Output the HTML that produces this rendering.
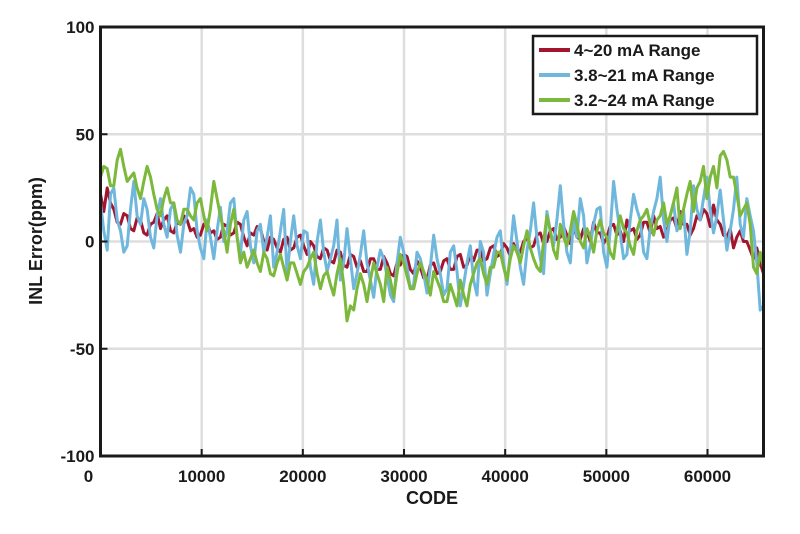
<!DOCTYPE html>
<html><head><meta charset="utf-8"><style>
body{margin:0;background:#fff;}
svg text{font-family:"Liberation Sans",Arial,sans-serif;font-weight:bold;fill:#1a1a1a;}
</style></head><body>
<svg id="chart" width="800" height="529" viewBox="0 0 800 529" xmlns="http://www.w3.org/2000/svg">
<g id="grid"></g>
<g id="series"></g>
<rect x="100.5" y="27" width="663" height="429" fill="none" stroke="#1a1a1a" stroke-width="3"/>
<g id="ticks"></g>
<text x="432" y="504" font-size="18" text-anchor="middle">CODE</text>
<text transform="translate(42,241) rotate(-90)" font-size="18" text-anchor="middle">INL Error(ppm)</text>
<g>
<rect x="533" y="36" width="224" height="78" fill="#fff" stroke="#1a1a1a" stroke-width="2.5"/>
<line x1="539" y1="50" x2="570" y2="50" stroke="#a3142f" stroke-width="4"/>
<text x="574" y="56" font-size="17">4~20 mA Range</text>
<line x1="539" y1="75" x2="570" y2="75" stroke="#6fb7dc" stroke-width="4"/>
<text x="574" y="81" font-size="17">3.8~21 mA Range</text>
<line x1="539" y1="100" x2="570" y2="100" stroke="#7cb83b" stroke-width="4"/>
<text x="574" y="106" font-size="17">3.2~24 mA Range</text>
</g>
</svg>
<script>
const xTicks=[0,10000,20000,30000,40000,50000,60000];
const yTicks=[-100,-50,0,50,100];
const red=[22,14,25,18,15,9,8,13,12,6,5,11,10,4,3,8,9,13,6,10,
12,5,4,9,8,12,10,5,6,2,3,8,9,4,5,1,2,8,7,3,
4,9,8,2,-2,4,3,7,6,0,-4,2,1,-3,-5,1,2,-4,-3,2,
3,-2,-6,0,-2,-7,-8,-3,-4,-9,-10,-4,-5,-11,-12,-6,-7,-12,-9,-14,
-14,-8,-8,-13,-13,-7,-10,-15,-16,-10,-11,-6,-7,-13,-15,-9,-12,-17,-18,-11,
-10,-15,-14,-9,-8,-13,-13,-7,-6,-12,-11,-6,-9,-4,-4,-9,-8,-3,-2,-7,
-6,-1,-3,-7,-1,-5,-5,0,2,-3,-2,3,4,-1,0,5,6,1,2,7,
3,-1,7,2,1,6,5,0,9,4,4,-1,2,7,8,3,5,0,10,5,
6,1,3,9,9,4,12,6,7,2,5,10,11,6,14,8,8,3,6,12,
10,15,13,7,17,10,8,3,2,6,-3,2,5,0,0,-4,-8,-3,-10,-15];
const blue=[18,5,-4,22,25,10,5,-5,-2,15,28,12,8,20,15,2,-3,12,20,8,
2,15,18,3,-5,8,12,25,22,5,-3,-8,10,2,-8,5,16,0,5,18,
20,2,-6,10,14,-2,-10,5,8,-5,2,12,-12,-5,5,15,-15,0,12,-2,
-8,5,4,-12,-20,0,10,-5,-14,-8,-2,10,-18,-10,6,-8,-22,-15,-6,5,
-10,-18,-26,-12,-4,-8,-16,-25,-28,-10,2,-5,-12,-22,-20,-5,-8,-15,-24,-12,
3,-8,-15,-25,-22,-5,-2,-14,-30,-20,-10,-2,-18,-25,0,-5,-25,-15,-6,2,
5,-10,-20,-5,12,0,-12,-20,-4,5,18,2,-8,-15,14,5,-2,10,26,8,
-5,-10,10,2,20,12,-10,-2,8,15,16,-5,-12,5,28,15,4,-8,-6,10,
22,15,10,-5,-8,6,14,20,30,10,0,12,18,5,8,15,-6,5,26,15,
10,20,30,15,4,12,24,10,-4,5,15,30,8,2,20,12,5,-10,-32,-30];
const green=[30,35,34,26,26,38,43,35,28,30,32,25,20,28,35,30,22,15,12,20,
25,18,18,10,8,15,15,12,10,18,20,12,5,15,28,20,12,5,-5,8,
15,2,-10,-5,-12,-8,-4,-10,-14,-5,-8,-15,-16,-10,-6,-12,-18,-10,-10,-15,
-20,-14,-12,-8,-5,-15,-22,-16,-14,-20,-25,-15,-8,-20,-37,-30,-32,-22,-15,-20,
-28,-18,-10,-15,-20,-28,-12,-18,-26,-15,-6,-10,-16,-22,-22,-15,-10,-14,-18,-25,
-14,-18,-22,-28,-28,-20,-25,-30,-18,-25,-30,-20,-15,-10,-8,-15,-20,-12,-12,-5,
-5,-12,-18,-8,-2,-5,-10,-2,5,-3,-8,-12,-14,0,12,5,-4,-8,8,2,
-2,5,14,8,0,-3,6,2,-5,5,10,4,2,-5,-8,5,12,6,4,-2,
-6,5,10,12,15,8,3,10,12,18,8,12,18,25,6,15,22,28,14,25,
28,35,20,30,35,25,40,42,38,30,30,22,12,15,18,8,-12,-15,-5,-12];
const NS="http://www.w3.org/2000/svg";
const X0=100.5,X1=763.5,Y0=456,Y1=27,XMAX=65535;
function sx(v){return X0+v/XMAX*(X1-X0);}
function sy(v){return Y0-(v+100)/200*(Y0-Y1);}
const grid=document.getElementById('grid'),ticks=document.getElementById('ticks'),ser=document.getElementById('series');
function mk(tag,attrs,parent){const e=document.createElementNS(NS,tag);for(const k in attrs)e.setAttribute(k,attrs[k]);parent.appendChild(e);return e;}
xTicks.forEach(t=>{
 const x=sx(t);
 if(t>0){const g=mk('line',{x1:x,y1:Y1,x2:x,y2:Y0,stroke:'#dedede','stroke-width':2.5},grid);
 
 
 const tk=mk('line',{x1:x,y1:Y0,x2:x,y2:Y0-7,stroke:'#1a1a1a','stroke-width':2},ticks);
 
 }
 const lb=mk('text',{x:t===0?x-12:x,y:Y0+26,'font-size':17,'text-anchor':'middle'},ticks);
 lb.textContent=t;
 
 
});
yTicks.forEach(t=>{
 const y=sy(t);
 if(t>-100&&t<100){const g=mk('line',{x1:X0,y1:y,x2:X1,y2:y,stroke:'#dedede','stroke-width':2.5},grid);
 
 
 const tk=mk('line',{x1:X0,y1:y,x2:X0+7,y2:y,stroke:'#1a1a1a','stroke-width':2},ticks);
 
 }
 const lb=mk('text',{x:X0-6,y:y+6,'font-size':17,'text-anchor':'end'},ticks);
 lb.textContent=t;
 
 
});
function line(arr,color,name){
 const step=XMAX/(arr.length-1);
 const pts=arr.map((v,i)=>sx(i*step).toFixed(1)+','+sy(v).toFixed(1)).join(' ');
 const p=mk('polyline',{points:pts,fill:'none',stroke:color,'stroke-width':3,'stroke-linejoin':'round'},ser);
 
 
}
line(red,'#a3142f','series-4-20ma');
line(blue,'#6fb7dc','series-3.8-21ma');
line(green,'#7cb83b','series-3.2-24ma');
</script>
</body></html>
